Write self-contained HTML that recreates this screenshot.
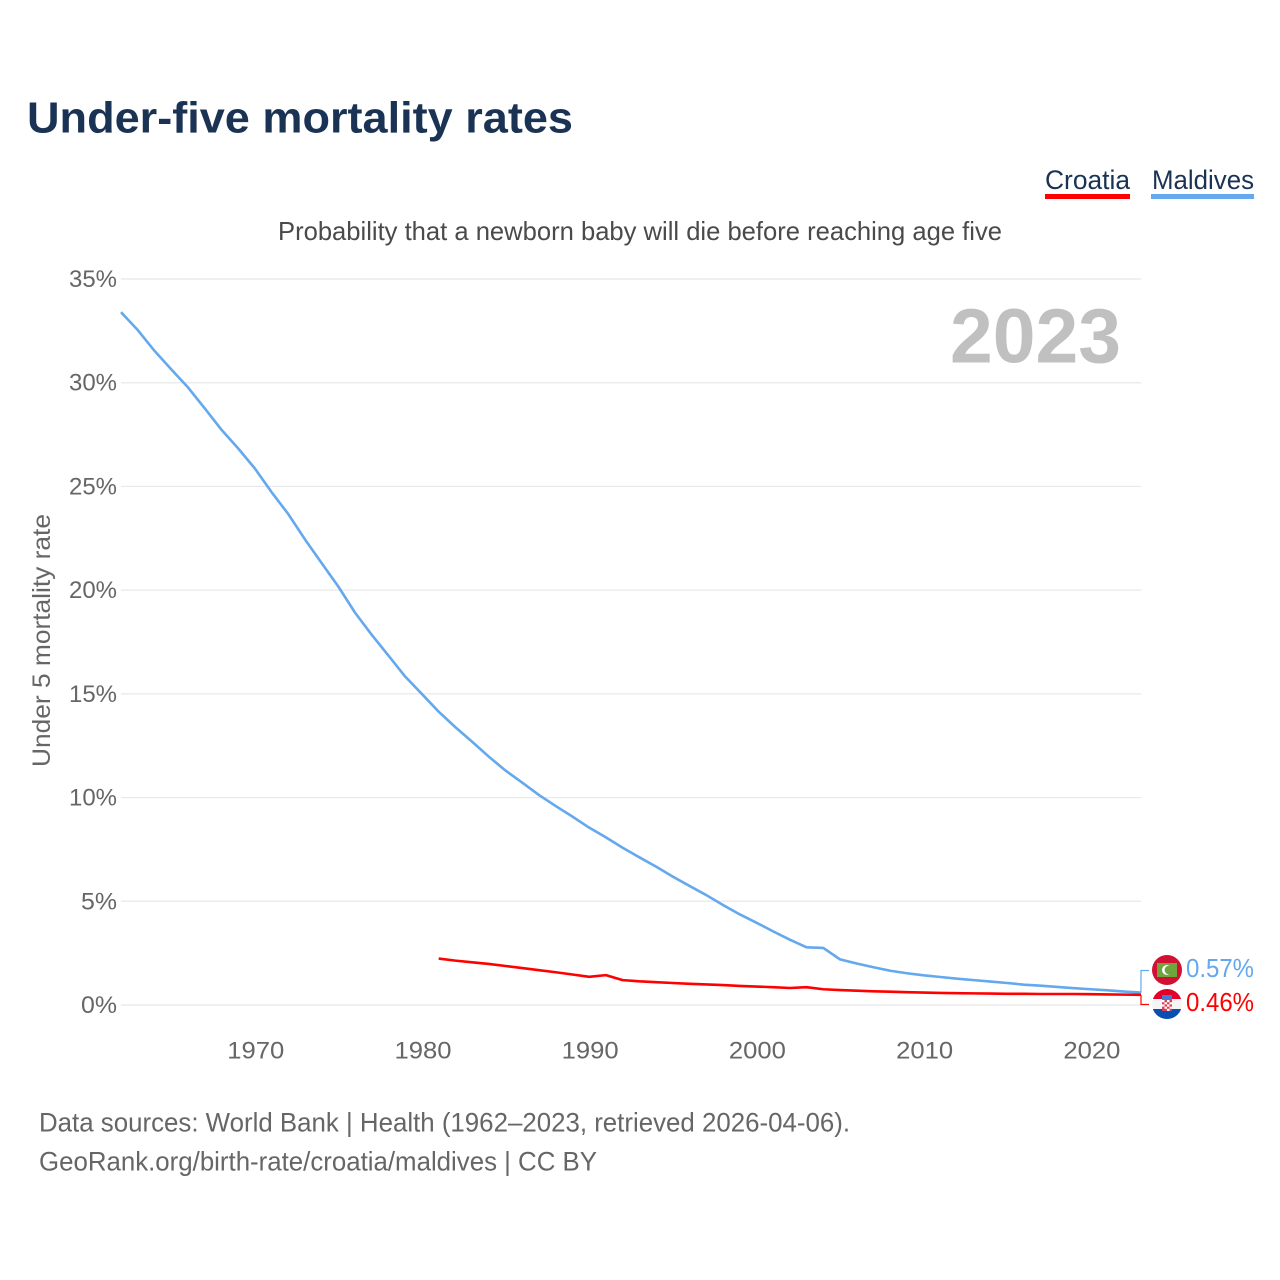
<!DOCTYPE html>
<html lang="en">
<head>
<meta charset="utf-8">
<title>Under-five mortality rates</title>
<style>
html,body{margin:0;padding:0;background:#fff}
svg{display:block}
text{font-family:"Liberation Sans",sans-serif}
</style>
</head>
<body>
<svg id="chart" xmlns="http://www.w3.org/2000/svg" width="1280" height="1280" viewBox="0 0 1280 1280">
<defs>
<clipPath id="clip-md"><circle cx="1167" cy="970" r="15"/></clipPath>
<clipPath id="clip-hr"><circle cx="1167" cy="1004" r="15"/></clipPath>
</defs>
<rect width="1280" height="1280" fill="#fff"/>
<text x="27" y="132.5" font-size="44" font-weight="700" fill="#1a3354" textLength="546" lengthAdjust="spacingAndGlyphs">Under-five mortality rates</text>
<text x="1045" y="189" font-size="27" fill="#1a3354" textLength="85" lengthAdjust="spacingAndGlyphs">Croatia</text>
<rect x="1045" y="194" width="85" height="5" fill="#ff0000"/>
<text x="1152" y="189" font-size="27" fill="#1a3354" textLength="102" lengthAdjust="spacingAndGlyphs">Maldives</text>
<rect x="1151" y="194" width="103" height="5" fill="#64a8ee"/>
<text x="278" y="240" font-size="26" fill="#4a4a4a" textLength="724" lengthAdjust="spacingAndGlyphs">Probability that a newborn baby will die before reaching age five</text>
<text x="950" y="362.5" font-size="77" font-weight="700" fill="#c0c0c0" textLength="171" lengthAdjust="spacingAndGlyphs">2023</text>
<g id="grid"></g>
<g id="y-axis"></g>
<g id="x-axis"></g>
<text transform="translate(50,767) rotate(-90)" x="0" y="0" font-size="25" fill="#666" textLength="253" lengthAdjust="spacingAndGlyphs">Under 5 mortality rate</text>
<g id="series"></g>
<g id="end-labels"></g>
<g clip-path="url(#clip-hr)">
<rect x="1152" y="989" width="30" height="10" fill="#e4002b"/>
<rect x="1152" y="999" width="30" height="10" fill="#f5f5f5"/>
<rect x="1152" y="1009" width="30" height="10" fill="#0a4fb0"/>
<rect x="1162" y="995" width="10" height="5" fill="#3f7fd0"/>
<rect x="1162" y="1000" width="10" height="11" fill="#d9415a"/>
<path d="M1162 1000h2.5v2.2h-2.5zM1167 1000h2.5v2.2h-2.5zM1164.5 1002.2h2.5v2.2h-2.5zM1169.5 1002.2h2.5v2.2h-2.5zM1162 1004.4h2.5v2.2h-2.5zM1167 1004.4h2.5v2.2h-2.5zM1164.5 1006.6h2.5v2.2h-2.5zM1169.5 1006.6h2.5v2.2h-2.5zM1167 1008.8h2.5v2.2h-2.5z" fill="#fff"/>
</g>
<g clip-path="url(#clip-md)">
<rect x="1152" y="955" width="30" height="30" fill="#d21034"/>
<rect x="1157" y="963" width="20" height="14" fill="#6fa53c"/>
<circle cx="1167" cy="970" r="5" fill="#fff"/>
<circle cx="1169" cy="970" r="4.4" fill="#6fa53c"/>
</g>
<text x="39" y="1131.5" font-size="26.5" fill="#666" textLength="811" lengthAdjust="spacingAndGlyphs">Data sources: World Bank | Health (1962–2023, retrieved 2026-04-06).</text>
<text x="39" y="1170.5" font-size="26.5" fill="#666" textLength="558" lengthAdjust="spacingAndGlyphs">GeoRank.org/birth-rate/croatia/maldives | CC BY</text>
</svg>
<script>
const maldivesStartYear = 1962;
const maldivesValues = [33.4,32.54,31.54,30.65,29.78,28.77,27.74,26.84,25.87,24.73,23.67,22.45,21.3,20.17,18.91,17.84,16.84,15.83,14.99,14.14,13.39,12.69,11.97,11.3,10.72,10.12,9.59,9.08,8.55,8.08,7.58,7.12,6.67,6.19,5.74,5.3,4.82,4.37,3.97,3.55,3.15,2.78,2.75,2.2,2.0,1.82,1.65,1.53,1.43,1.35,1.27,1.2,1.13,1.06,0.98,0.93,0.87,0.81,0.76,0.71,0.65,0.6];
const croatiaStartYear = 1981;
const croatiaValues = [2.24,2.14,2.06,1.98,1.88,1.78,1.68,1.58,1.47,1.36,1.44,1.2,1.14,1.1,1.06,1.02,0.99,0.96,0.92,0.89,0.86,0.82,0.86,0.76,0.72,0.69,0.66,0.64,0.62,0.6,0.58,0.57,0.56,0.55,0.54,0.54,0.53,0.53,0.53,0.52,0.51,0.5,0.49];
const yTicks = [0,5,10,15,20,25,30,35];
const xTicks = [1970,1980,1990,2000,2010,2020];
const maldivesEndLabel = "0.57%";
const croatiaEndLabel = "0.46%";

const NS = "http://www.w3.org/2000/svg";
function xScale(year){ return 121 + (year - 1962) * (1141 - 121) / (2023 - 1962); }
function yScale(v){ return 1005 - v * (1005 - 279) / 35; }
function make(tag, attrs, parent){
  const el = document.createElementNS(NS, tag);
  for (const k in attrs) el.setAttribute(k, attrs[k]);
  parent.appendChild(el);
  return el;
}
const grid = document.getElementById('grid');
const yAxis = document.getElementById('y-axis');
const xAxis = document.getElementById('x-axis');
const seriesG = document.getElementById('series');
const endG = document.getElementById('end-labels');

yTicks.forEach(function(t){
  const line = make('line', {x1:121, x2:1141, y1:yScale(t), y2:yScale(t), stroke: '#e8e8e8', 'stroke-width':1.2}, grid);
  
  
  const label = make('text', {x:117, y:yScale(t)+8, 'text-anchor':'end', 'font-size':24.5, fill:'#666', textLength: t < 10 ? 36 : 48, lengthAdjust:'spacingAndGlyphs'}, yAxis);
  label.textContent = t + '%';
  
  
});
xTicks.forEach(function(t){
  const label = make('text', {x:xScale(t)+1, y:1058.5, 'text-anchor':'middle', 'font-size':24.5, fill:'#666', textLength:57, lengthAdjust:'spacingAndGlyphs'}, xAxis);
  label.textContent = t;
  
  
});
function pathFor(values, start){
  return values.map(function(v,i){
    return (i ? 'L' : 'M') + xScale(start + i).toFixed(2) + ' ' + yScale(v).toFixed(2);
  }).join(' ');
}
const maldivesLine = make('path', {d:pathFor(maldivesValues, maldivesStartYear), fill:'none', stroke:'#64a8ee', 'stroke-width':2.6, 'stroke-linejoin':'round'}, seriesG);


const croatiaLine = make('path', {d:pathFor(croatiaValues, croatiaStartYear), fill:'none', stroke:'#ff0000', 'stroke-width':2.6, 'stroke-linejoin':'round'}, seriesG);



const lastX = xScale(2023);
const mdEnd = yScale(maldivesValues[maldivesValues.length - 1]);
const hrEnd = yScale(croatiaValues[croatiaValues.length - 1]);
const mdConnector = make('path', {d:'M' + lastX + ' ' + mdEnd + 'V970.5H1149', fill:'none', stroke:'#64a8ee', 'stroke-width':1.2}, endG);


const hrConnector = make('path', {d:'M' + lastX + ' ' + hrEnd + 'V1004.5H1149', fill:'none', stroke:'#ff0000', 'stroke-width':1.2}, endG);


const mdLabel = make('text', {x:1186, y:977, 'font-size':25.5, fill:'#64a8ee', textLength:68, lengthAdjust:'spacingAndGlyphs'}, endG);
mdLabel.textContent = maldivesEndLabel;


const hrLabel = make('text', {x:1186, y:1011, 'font-size':25.5, fill:'#ff0000', textLength:68, lengthAdjust:'spacingAndGlyphs'}, endG);
hrLabel.textContent = croatiaEndLabel;


</script>
</body>
</html>
